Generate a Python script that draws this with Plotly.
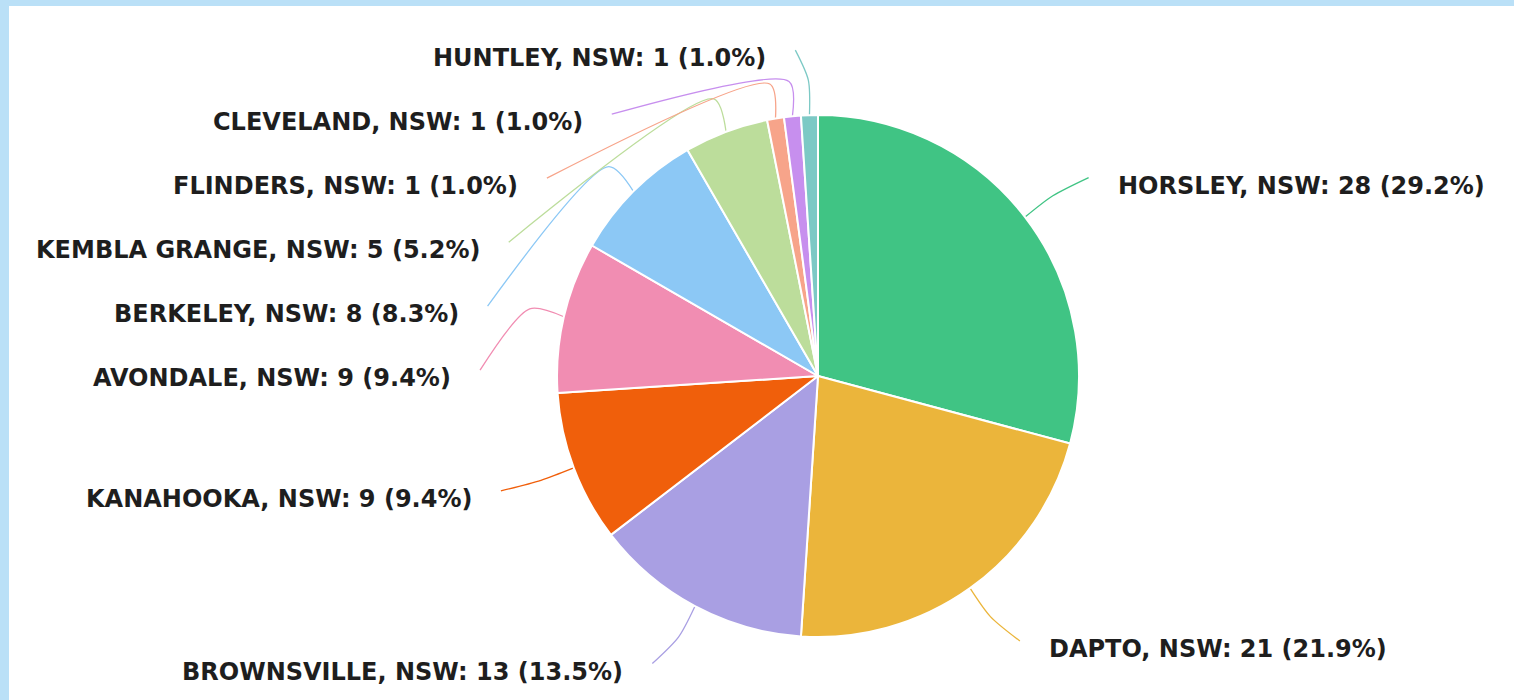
import math
import plotly.graph_objects as go

# ---- data ----
suburbs = ["HORSLEY, NSW", "DAPTO, NSW", "BROWNSVILLE, NSW", "KANAHOOKA, NSW",
           "AVONDALE, NSW", "BERKELEY, NSW", "KEMBLA GRANGE, NSW", "FLINDERS, NSW",
           "CLEVELAND, NSW", "HUNTLEY, NSW"]
counts = [28, 21, 13, 9, 9, 8, 5, 1, 1, 1]

# ---- style ----
colors = ["#40C484", "#EBB53B", "#A99FE3", "#F05F0B", "#F18DB2",
          "#8CC8F5", "#BCDD9B", "#F7A48A", "#C78FEE", "#7CC9C5"]
W, H = 1514, 700
ML, MT = 9, 6                 # light-blue frame (left / top)
CX, CY, R = 818, 376, 261     # pie centre and radius in page pixels
LEN1 = 65                     # radial distance of label anchor beyond the rim
BEND = 35                     # radial distance of the leader bend
LEN2 = 12                     # horizontal part of leader
TEXT_GAP = 27
GAP = 64                      # min vertical spacing of labels
TOP = 44
TEXT_DY = 8
FONT = dict(family="DejaVu Sans", size=24, color="#1e1e1e")

total = sum(counts)
items = []
cum = 0
for name, c, col in zip(suburbs, counts, colors):
    ang = (cum + c / 2) / total * 2 * math.pi
    cum += c
    s, co = math.sin(ang), math.cos(ang)
    d = 1 if s >= 0 else -1
    rr = R + LEN1
    p2x, p2y = CX + rr * s, CY - rr * co
    items.append(dict(
        text=f"{name}: {c} ({100 * c / total:.1f}%)", color=col, dir=d,
        p1=(CX + R * s, CY - R * co),
        pb=(CX + (R + BEND) * s, CY - (R + BEND) * co),
        x=p2x + d * LEN2, y=p2y))

# label collision avoidance + x re-alignment on an ellipse (ECharts-like)
for d in (-1, 1):
    side = sorted([it for it in items if it["dir"] == d], key=lambda it: it["y"])
    prev = None
    for it in side:
        y = max(it["y"], TOP) if prev is None else max(it["y"], prev + GAP)
        it["y"] = y
        prev = y
    rA = R + LEN1
    for semi in ([it for it in side if it["y"] < CY], [it for it in side if it["y"] >= CY]):
        if not semi:
            continue
        far = max(semi, key=lambda it: abs(it["y"] - CY))
        dy0 = abs(far["y"] - CY)
        dx0 = far["x"] - CX - LEN2 * d
        rB = math.sqrt(dy0 ** 2 / (1 - dx0 ** 2 / rA ** 2)) if abs(dx0) < rA else rA
        for it in semi:
            dy = abs(it["y"] - CY)
            dx = math.sqrt(max(0.0, 1 - dy * dy / (rB * rB))) * rA
            it["x"] = CX + (dx + LEN2) * d

fig = go.Figure()

fig.add_trace(go.Pie(
    labels=suburbs, values=counts, sort=False, direction="clockwise", rotation=0,
    marker=dict(colors=colors, line=dict(color="white", width=2)),
    textinfo="none", showlegend=False,
    domain=dict(x=[(CX - R - ML) / (W - ML), (CX + R - ML) / (W - ML)],
                y=[(H - (CY + R)) / (H - MT), (H - (CY - R)) / (H - MT)]),
    hovertemplate="%{label}: %{value} (%{percent})<extra></extra>"))

for it in items:
    xs = [it["p1"][0], it["pb"][0], it["x"]]
    ys = [it["p1"][1], it["pb"][1], it["y"]]
    fig.add_trace(go.Scatter(x=xs, y=ys, mode="lines",
                             line=dict(color=it["color"], width=1.3, shape="spline", smoothing=0.8),
                             hoverinfo="skip", showlegend=False))
    fig.add_annotation(x=it["x"] + it["dir"] * TEXT_GAP, y=it["y"] + TEXT_DY, xref="x", yref="y",
                       text=f"<b>{it['text']}</b>", showarrow=False,
                       xanchor="left" if it["dir"] > 0 else "right", yanchor="middle",
                       font=FONT)

fig.update_layout(
    width=W, height=H, margin=dict(l=ML, t=MT, r=0, b=0, pad=0),
    paper_bgcolor="#BAE0F7", plot_bgcolor="white",
    xaxis=dict(range=[ML, W], visible=False, fixedrange=True),
    yaxis=dict(range=[H, MT], visible=False, fixedrange=True),
)

fig.write_html("out.html", config={"displayModeBar": False},
               post_script="document.body.style.margin='0';document.body.style.overflow='hidden';")
